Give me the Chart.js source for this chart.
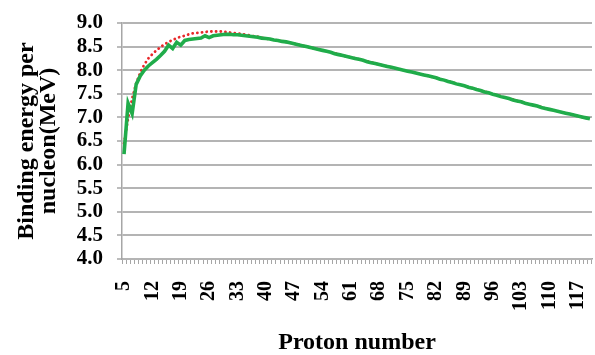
<!DOCTYPE html>
<html>
<head>
<meta charset="utf-8">
<script src="https://cdn.jsdelivr.net/npm/chart.js@4.4.0/dist/chart.umd.min.js"></script>
<style>
  html, body { margin: 0; padding: 0; background: #ffffff; }
  #wrap { width: 595px; height: 355px; position: relative; }
</style>
</head>
<body>
<div id="wrap"><canvas id="c" width="595" height="355"></canvas></div>
<script>
// Proton numbers (categories) 5 .. 120
const protonNumbers = [
  5,6,7,8,9,10,11,12,13,14,15,16,17,18,19,20,21,22,23,24,25,26,27,28,29,30,
  31,32,33,34,35,36,37,38,39,40,41,42,43,44,45,46,47,48,49,50,51,52,53,54,55,
  56,57,58,59,60,61,62,63,64,65,66,67,68,69,70,71,72,73,74,75,76,77,78,79,80,
  81,82,83,84,85,86,87,88,89,90,91,92,93,94,95,96,97,98,99,100,101,102,103,104,
  105,106,107,108,109,110,111,112,113,114,115,116,117,118,119,120
];

// Green solid series (binding energy per nucleon, MeV)
const greenSeries = [
  6.22,7.30,7.08,7.70,7.88,8.00,8.09,8.16,8.23,8.31,8.40,8.53,8.46,8.59,8.53,8.63,
  8.65,8.66,8.67,8.68,8.73,8.69,8.73,8.74,8.75,8.76,8.76,8.75,8.75,8.74,8.73,8.72,
  8.71,8.70,8.68,8.67,8.66,8.64,8.63,8.61,8.60,8.58,8.56,8.54,8.52,8.50,8.48,8.46,
  8.44,8.42,8.40,8.38,8.35,8.33,8.31,8.29,8.27,8.25,8.23,8.21,8.18,8.16,8.14,8.12,
  8.10,8.08,8.06,8.04,8.02,8.00,7.98,7.96,7.94,7.92,7.90,7.88,7.86,7.84,7.81,7.79,
  7.76,7.74,7.71,7.69,7.67,7.64,7.62,7.59,7.57,7.54,7.52,7.49,7.47,7.44,7.42,7.40,
  7.37,7.35,7.33,7.30,7.28,7.26,7.24,7.21,7.19,7.17,7.15,7.13,7.11,7.09,7.07,7.05,
  7.03,7.01,6.99,6.97
];

// Red dotted series (smooth curve)
const redSeries = [
  6.45,6.98,7.40,7.72,7.95,8.12,8.25,8.34,8.42,8.49,8.55,8.60,8.64,8.68,8.71,8.73,
  8.76,8.78,8.79,8.80,8.81,8.82,8.82,8.82,8.82,8.81,8.80,8.79,8.78,8.77,8.75,8.74,
  8.72,8.71,8.69,8.67,8.66,8.64,8.63,8.61,8.60,8.58,8.56,8.54,8.52,8.50,8.48,8.46,
  8.44,8.42,8.40,8.38,8.36,8.34,8.31,8.29,8.27,8.25,8.23,8.21,8.19,8.17,8.14,8.12,
  8.10,8.08,8.06,8.04,8.02,8.00,7.98,7.96,7.94,7.92,7.90,7.88,7.86,7.84,7.81,7.79,
  7.77,7.74,7.72,7.69,7.67,7.64,7.62,7.59,7.57,7.55,7.52,7.50,7.47,7.45,7.42,7.40,
  7.38,7.35,7.33,7.31,7.28,7.26,7.24,7.22,7.19,7.17,7.15,7.13,7.11,7.09,7.07,7.05,
  7.03,7.01,6.99,6.97
];

// Y axis tick values
const yTicks = [4.0,4.5,5.0,5.5,6.0,6.5,7.0,7.5,8.0,8.5,9.0];
const xLabelStep = 7;

const serif = '"Liberation Serif", "Times New Roman", "DejaVu Serif", serif';

new Chart(document.getElementById('c'), {
  type: 'line',
  data: {
    labels: protonNumbers,
    datasets: [
      {
        label: 'green',
        data: greenSeries,
        borderColor: '#20ac4a',
        borderWidth: 3.6,
        pointRadius: 0,
        tension: 0,
        order: 0
      },
      {
        label: 'red',
        data: redSeries,
        borderColor: '#e8282a',
        borderWidth: 2.8,
        borderDash: [0.1, 4.6],
        borderCapStyle: 'round',
        pointRadius: 0,
        tension: 0,
        order: 1
      }
    ]
  },
  options: {
    responsive: false,
    animation: false,
    devicePixelRatio: 1,
    layout: { padding: { top: 23, right: 3, bottom: 0, left: 0 } },
    plugins: { legend: { display: false }, tooltip: { enabled: false } },
    scales: {
      x: {
        type: 'category',
        offset: true,
        grid: {
          offset: true,
          drawOnChartArea: false,
          drawTicks: true,
          tickLength: 5,
          color: '#a6a6a6',
          lineWidth: 1
        },
        border: { display: true, color: '#a6a6a6', width: 1.5 },
        ticks: {
          autoSkip: false,
          minRotation: 90,
          maxRotation: 90,
          padding: 17,
          color: '#000000',
          font: { family: serif, size: 20, weight: 'bold' },
          callback: function (value, index) {
            return index % xLabelStep === 0 ? String(this.getLabelForValue(value)) : '';
          }
        },
        title: {
          display: true,
          text: 'Proton number',
          color: '#000000',
          font: { family: serif, size: 24, weight: 'bold', lineHeight: 1.0 },
          padding: { top: 0, bottom: 0 }
        },
        afterFit: function (scale) {
          scale.height = 96;
          scale.paddingLeft = 0;
          scale.paddingRight = 0;
        }
      },
      y: {
        type: 'linear',
        min: yTicks[0],
        max: yTicks[yTicks.length - 1],
        grid: {
          display: true,
          drawOnChartArea: true,
          z: 0,
          color: '#b4b4b4',
          lineWidth: 2,
          drawTicks: true,
          tickLength: 5,
          tickColor: '#a6a6a6',
          tickWidth: 1.5
        },
        border: { display: true, color: '#a6a6a6', width: 1.5 },
        ticks: {
          autoSkip: false,
          stepSize: yTicks[1] - yTicks[0],
          padding: 14,
          color: '#000000',
          font: { family: serif, size: 21, weight: 'bold', lineHeight: 1.0 },
          callback: function (value) { return Number(value).toFixed(1); }
        },
        title: {
          display: true,
          text: ['Binding energy per', 'nucleon(MeV)'],
          color: '#000000',
          font: { family: serif, size: 24, weight: 'bold', lineHeight: 0.95 },
          padding: { top: 15, bottom: 0 }
        },
        afterFit: function (scale) {
          scale.width = 122;
          scale.paddingTop = 0;
          scale.paddingBottom = 0;
        }
      }
    }
  }
});
</script>
</body>
</html>
